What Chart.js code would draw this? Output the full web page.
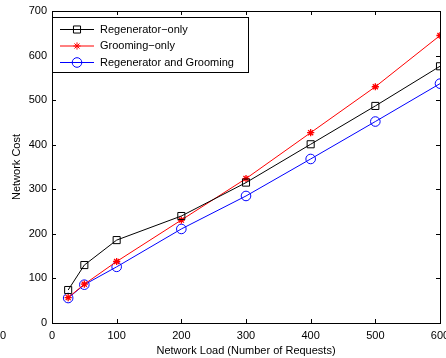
<!DOCTYPE html>
<html>
<head>
<meta charset="utf-8">
<script src="https://cdn.jsdelivr.net/npm/chart.js@4"></script>
<style>
html,body{margin:0;padding:0;background:#fff;}
#wrap{width:446px;height:358px;position:relative;}
</style>
</head>
<body>
<div id="wrap"><canvas id="c" width="446" height="358"></canvas></div>
<script>
const loads = [25, 50, 100, 200, 300, 400, 500, 600];
const regeneratorOnly = [74, 130, 186, 240, 315, 401, 487, 576];
const groomingOnly = [57, 87, 138, 231, 324, 427, 530, 645];
const regenAndGrooming = [56, 86, 126, 211, 285, 368, 452, 537];
const seriesLabels = ['Regenerator\u2212only', 'Grooming\u2212only', 'Regenerator and Grooming'];
const xTitle = 'Network Load (Number of Requests)';
const yTitle = 'Network Cost';

const FONT = 'Liberation Sans, Arial, Helvetica, sans-serif';
const toPts = arr => arr.map((v, i) => ({x: loads[i], y: v}));

const frameTicks = {
  id: 'frameTicks',
  afterDraw(chart) {
    const ctx = chart.ctx;
    const a = chart.chartArea;
    const xs = chart.scales.x, ys = chart.scales.y;
    ctx.save();
    ctx.strokeStyle = '#000';
    ctx.lineWidth = 1;
    ctx.strokeRect(Math.round(a.left) + 0.5, Math.round(a.top) + 0.5,
                   Math.round(a.right - a.left), Math.round(a.bottom - a.top));
    const L = 4;
    ctx.beginPath();
    xs.ticks.forEach(t => {
      const px = Math.round(xs.getPixelForValue(t.value)) + 0.5;
      ctx.moveTo(px, a.bottom); ctx.lineTo(px, a.bottom - L);
      ctx.moveTo(px, a.top); ctx.lineTo(px, a.top + L);
    });
    ys.ticks.forEach(t => {
      const py = Math.round(ys.getPixelForValue(t.value)) + 0.5;
      ctx.moveTo(a.left, py); ctx.lineTo(a.left + L, py);
      ctx.moveTo(a.right, py); ctx.lineTo(a.right - L, py);
    });
    ctx.stroke();

    // stray tick label from neighbouring figure
    ctx.fillStyle = '#000';
    ctx.font = '11px ' + FONT;
    ctx.textAlign = 'left';
    ctx.textBaseline = 'middle';
    ctx.fillText('0', 0, 336);

    // legend
    const lx = Math.round(a.left) + 0.5, ly = 17.5, lw = 196, lh = 55;
    ctx.fillStyle = '#fff';
    ctx.fillRect(lx, ly, lw, lh);
    ctx.strokeStyle = '#000';
    ctx.strokeRect(lx, ly, lw, lh);
    chart.data.datasets.forEach((ds, i) => {
      const y = 29.5 + i * 16.5;
      ctx.strokeStyle = ds.borderColor;
      ctx.lineWidth = 1;
      ctx.beginPath();
      ctx.moveTo(60, y); ctx.lineTo(94, y);
      ctx.stroke();
      ctx.fillStyle = 'rgba(0,0,0,0)';
      ctx.strokeStyle = ds.borderColor;
      Chart.helpers.drawPoint(ctx, {pointStyle: ds.pointStyle, radius: ds.pointRadius, borderWidth: 1}, 77, y);
      ctx.fillStyle = '#000';
      ctx.textAlign = 'left';
      ctx.textBaseline = 'middle';
      ctx.fillText(ds.label, 100, y);
    });
    ctx.restore();
  }
};

new Chart(document.getElementById('c'), {
  type: 'line',
  data: {
    datasets: [
      {label: seriesLabels[0], data: toPts(regeneratorOnly), borderColor: '#000', backgroundColor: 'transparent',
       pointStyle: 'rect', pointRadius: 5, pointBorderColor: '#000', pointBackgroundColor: 'transparent', borderWidth: 1, pointBorderWidth: 1},
      {label: seriesLabels[1], data: toPts(groomingOnly), borderColor: '#ff0000', backgroundColor: 'transparent',
       pointStyle: 'star', pointRadius: 3.6, pointBorderColor: '#ff0000', pointBackgroundColor: 'transparent', borderWidth: 1, pointBorderWidth: 1.3},
      {label: seriesLabels[2], data: toPts(regenAndGrooming), borderColor: '#0000ff', backgroundColor: 'transparent',
       pointStyle: 'circle', pointRadius: 4.8, pointBorderColor: '#0000ff', pointBackgroundColor: 'transparent', borderWidth: 1, pointBorderWidth: 1}
    ]
  },
  options: {
    responsive: false,
    animation: false,
    devicePixelRatio: 1,
    layout: {padding: {top: 11, right: 6, left: 10, bottom: 0}},
    plugins: {legend: {display: false}, tooltip: {enabled: false}},
    elements: {line: {tension: 0}},
    scales: {
      x: {
        type: 'linear', min: 0, max: 600,
        ticks: {stepSize: 100, color: '#000', font: {family: FONT, size: 11}, padding: 6, maxRotation: 0},
        grid: {display: false, drawTicks: false},
        border: {display: false},
        title: {display: true, text: xTitle, color: '#000', font: {family: FONT, size: 11}, padding: {top: 2, bottom: 0}},
        afterFit(s) { s.height = 35; s.paddingLeft = 0; s.paddingRight = 0; }
      },
      y: {
        type: 'linear', min: 0, max: 700,
        ticks: {stepSize: 100, color: '#000', font: {family: FONT, size: 11}, padding: 5},
        grid: {display: false, drawTicks: false},
        border: {display: false},
        title: {display: true, text: yTitle, color: '#000', font: {family: FONT, size: 11}, padding: {top: 0, bottom: 4}},
        afterFit(s) { s.width = 42; s.paddingTop = 0; s.paddingBottom = 0; }
      }
    }
  },
  plugins: [frameTicks]
});
</script>
</body>
</html>
